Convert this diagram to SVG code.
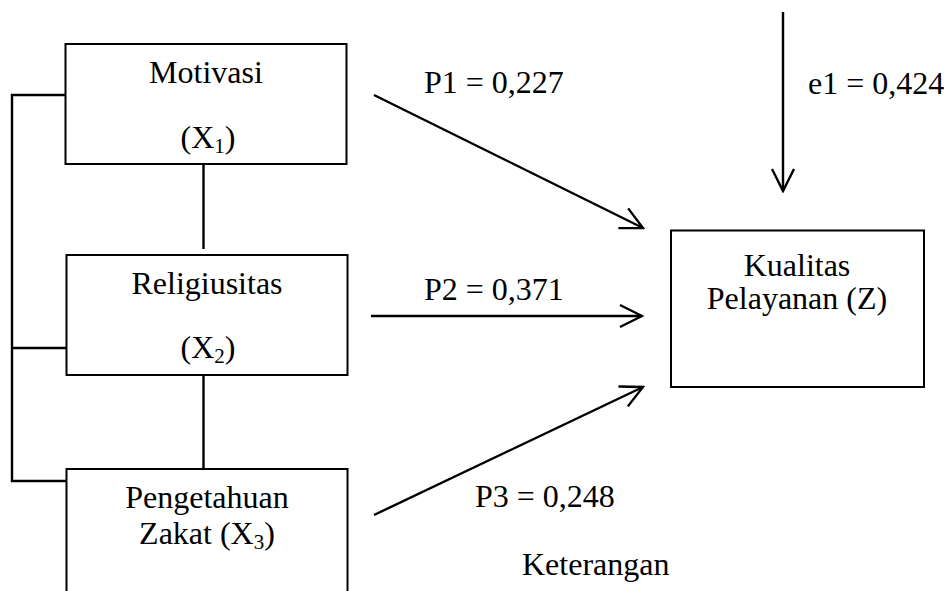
<svg xmlns="http://www.w3.org/2000/svg" width="949" height="591" viewBox="0 0 949 591">
<style>
.box{fill:#fff;stroke:#000;stroke-width:2}
.ln{fill:none;stroke:#000;stroke-width:2.4}
text{font-family:"Liberation Serif","Times New Roman",serif;font-size:32px;fill:#000}
.c{text-anchor:middle}
.sub{font-size:21px}
</style>
<defs>
<marker id="arr" viewBox="0 0 26 26" markerWidth="26" markerHeight="26" refX="24" refY="13" orient="auto" markerUnits="userSpaceOnUse">
<path d="M2,2 L24,13 L2,24" fill="none" stroke="#000" stroke-width="2.4"/>
</marker>
</defs>
<rect width="949" height="591" fill="#fff"/>
<g id="connectors">
<path class="ln" d="M65,95 H12 V481 H66 M12,348 H66"/>
<path class="ln" d="M203.5,164 V249 M203.5,375 V469"/>
<line class="ln" x1="374" y1="95" x2="643" y2="228" marker-end="url(#arr)"/>
<line class="ln" x1="371" y1="316" x2="642" y2="316" marker-end="url(#arr)"/>
<line class="ln" x1="374" y1="515" x2="643" y2="387" marker-end="url(#arr)"/>
<line class="ln" x1="783" y1="12" x2="783" y2="191" marker-end="url(#arr)"/>
<text x="424" y="93">P1 = 0,227</text>
<text x="808" y="94">e1 = 0,424</text>
<text x="424" y="300">P2 = 0,371</text>
<text x="475" y="507">P3 = 0,248</text>
</g>
<g id="motivasi">
<rect class="box" x="65.5" y="44" width="281" height="120"/>
<text class="c" x="206" y="83">Motivasi</text>
<text class="c" x="208" y="148">(X<tspan class="sub" dy="5">1</tspan><tspan dy="-5">)</tspan></text>
</g>
<g id="religiusitas">
<rect class="box" x="66.5" y="255" width="281" height="120"/>
<text class="c" x="207" y="294">Religiusitas</text>
<text class="c" x="208" y="358">(X<tspan class="sub" dy="5">2</tspan><tspan dy="-5">)</tspan></text>
</g>
<g id="pengetahuan">
<rect class="box" x="66.5" y="469" width="281" height="140"/>
<text class="c" x="207" y="508">Pengetahuan</text>
<text class="c" x="207" y="544">Zakat (X<tspan class="sub" dy="5">3</tspan><tspan dy="-5">)</tspan></text>
</g>
<g id="kualitas">
<rect class="box" x="671" y="230.5" width="253" height="156.5"/>
<text class="c" x="797" y="276">Kualitas</text>
<text class="c" x="797" y="309">Pelayanan (Z)</text>
</g>
<g id="keterangan">
<text x="522" y="575">Keterangan</text>
</g>
</svg>
